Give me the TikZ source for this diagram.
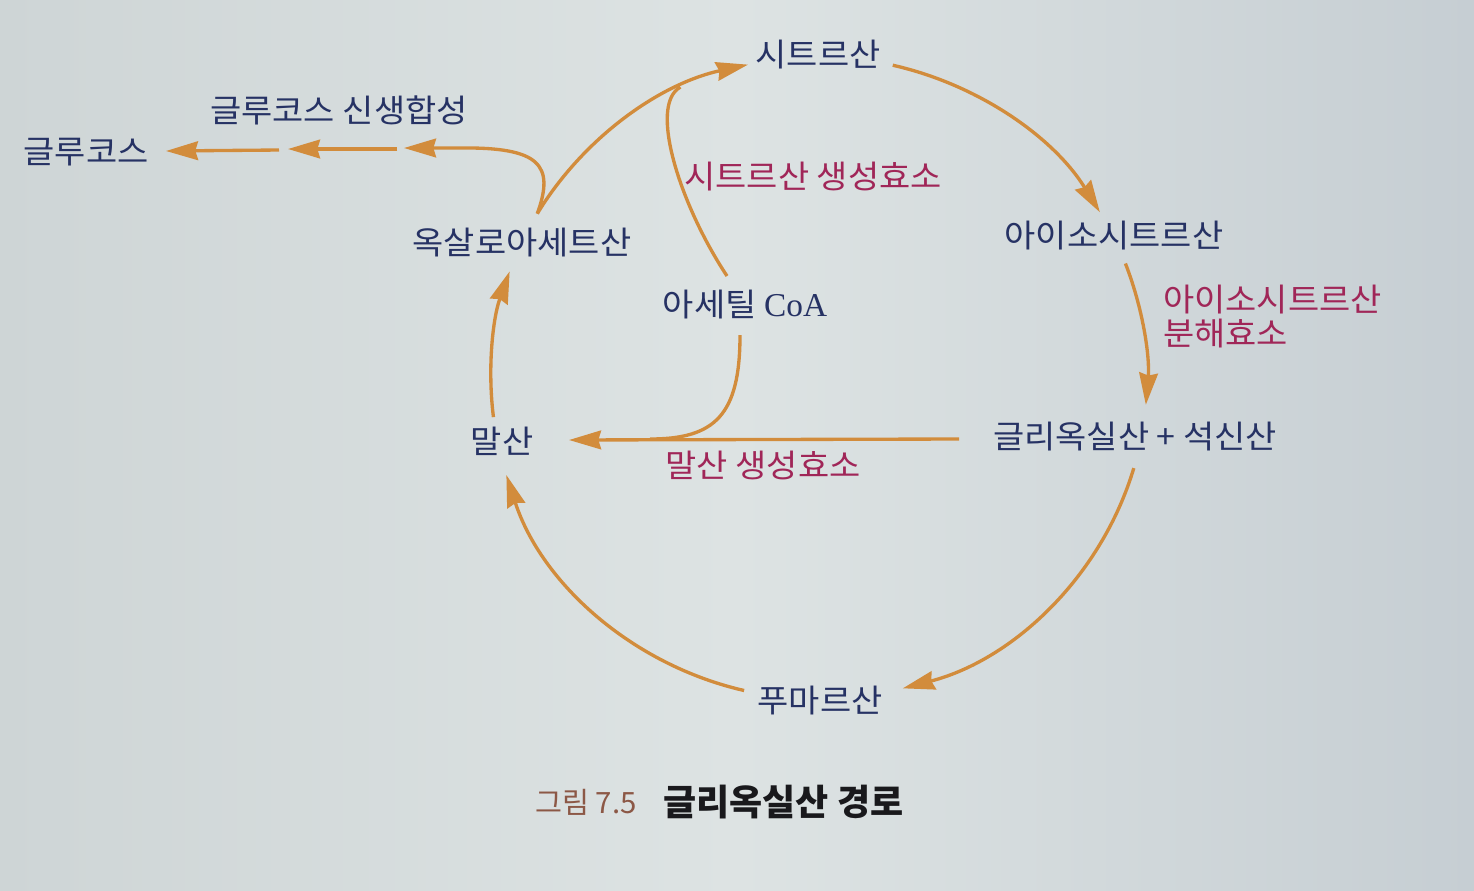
\documentclass[tikz,border=0pt]{standalone}
\usepackage{fontspec}
\newfontfamily\kr[FakeStretch=1.06]{Noto Sans CJK KR}
\newfontfamily\krc{Noto Sans CJK KR}
\newfontfamily\coafont{Liberation Serif}
\usetikzlibrary{arrows.meta}
\definecolor{navy}{RGB}{38,50,100}
\definecolor{mag}{RGB}{160,38,88}
\definecolor{orng}{RGB}{210,140,60}
\definecolor{bgL}{RGB}{206,213,214}
\definecolor{bgM}{RGB}{221,227,227}
\definecolor{bgR}{RGB}{198,206,211}
\definecolor{capbrown}{RGB}{140,88,70}
\definecolor{capblack}{RGB}{25,25,28}
\begin{document}
\begin{tikzpicture}[x=0.75pt,y=-0.75pt,
  mol/.style={text=navy,font=\kr\fontsize{24}{28}\selectfont,inner sep=0pt},
  enz/.style={text=mag,font=\kr\fontsize{24}{25.5}\selectfont,inner sep=0pt},
  arr/.style={draw=orng,line width=2.5pt,-{Stealth[length=24pt,width=14pt,inset=2pt]}},
  ln/.style={draw=orng,line width=2.5pt},
  capa/.style={text=capbrown,font=\krc\fontsize{22}{26}\selectfont,inner sep=0pt},
  capb/.style={text=capblack,font=\krc\bfseries\fontsize{27}{30}\selectfont,inner sep=0pt}]
\shade[left color=bgL,right color=bgR,middle color=bgM] (0,0) rectangle (1474,890);
\useasboundingbox (0,0) rectangle (1474,890);

% nodes
\node[mol] (cit) at (818,55) {시트르산};
\node[mol] (iso) at (1114,236) {아이소시트르산};
\node[enz,align=left,anchor=west] (isol) at (1163,317) {아이소시트르산\\분해효소};
\node[mol] (gly) at (1135,437) {글리옥실산 + 석신산};
\node[mol] (fum) at (820,701) {푸마르산};
\node[mol] (mal) at (502,441) {말산};
\node[enz] (mals) at (763,465) {말산 생성효소};
\node[mol] (oxa) at (522,243) {옥살로아세트산};
\node[mol] (acoa) at (745,305) {아세틸 {\coafont\fontsize{25}{28}\selectfont CoA}};
\node[enz] (cits) at (813,177) {시트르산 생성효소};
\node[mol] (gng) at (339,110) {글루코스 신생합성};
\node[mol] (glc) at (86,152) {글루코스};
\node[capa,anchor=west] (fig) at (535,802) {그림 7.5};
\node[capb,anchor=west] (title) at (663,802) {글리옥실산 경로};

% cycle geometry
\coordinate (O) at (819,378);
\path (O) ++(-77:328 and 321) coordinate (a1s);
\path (O) ++(-20.9:328 and 321) coordinate (a2s);
\path (O) ++(16.3:328 and 321) coordinate (a3s);
\path (O) ++(103.2:328 and 321) coordinate (a4s);
\path (O) ++(173:328 and 321) coordinate (a5s);
\path (O) ++(210.8:328 and 321) coordinate (a6s);
\path (O) ++(245:328 and 321) coordinate (j1);

\draw[arr] (a1s) arc[start angle=-77,end angle=-31.1,x radius=328,y radius=321];
\draw[arr] (a2s) arc[start angle=-20.9,end angle=4.8,x radius=328,y radius=321];
\draw[arr] (a3s) arc[start angle=16.3,end angle=75.2,x radius=328,y radius=321];
\draw[arr] (a4s) arc[start angle=103.2,end angle=162.4,x radius=328,y radius=321];
\draw[arr] (a5s) arc[start angle=173,end angle=199.4,x radius=328,y radius=321];
\draw[arr] (a6s) arc[start angle=210.8,end angle=257.5,x radius=328,y radius=321];

% acetyl CoA branches
\coordinate (ac1) at (727,276);
\coordinate (ac2) at (740,335);
\coordinate (j2) at (650,439);
\draw[ln] (ac1) .. controls (680,205) and (648,105) .. (j1);
\draw[ln] (ac2) .. controls (740,415) and (715,439) .. (j2);

% glyoxylate -> malate
\coordinate (g1) at (959,439);
\coordinate (m1) at (569,440);
\draw[arr] (g1) -- (m1);

% gluconeogenesis
\coordinate (gc1) at (460,148);
\coordinate (gt1) at (404,148);
\coordinate (gs2) at (397,149);
\coordinate (gt2) at (288,149);
\coordinate (gs3) at (279,150);
\coordinate (gt3) at (166,151);
\draw[arr] (a6s) .. controls (555,165) and (540,147) .. (gc1) -- (gt1);
\draw[arr] (gs2) -- (gt2);
\draw[arr] (gs3) -- (gt3);
\end{tikzpicture}
\end{document}
